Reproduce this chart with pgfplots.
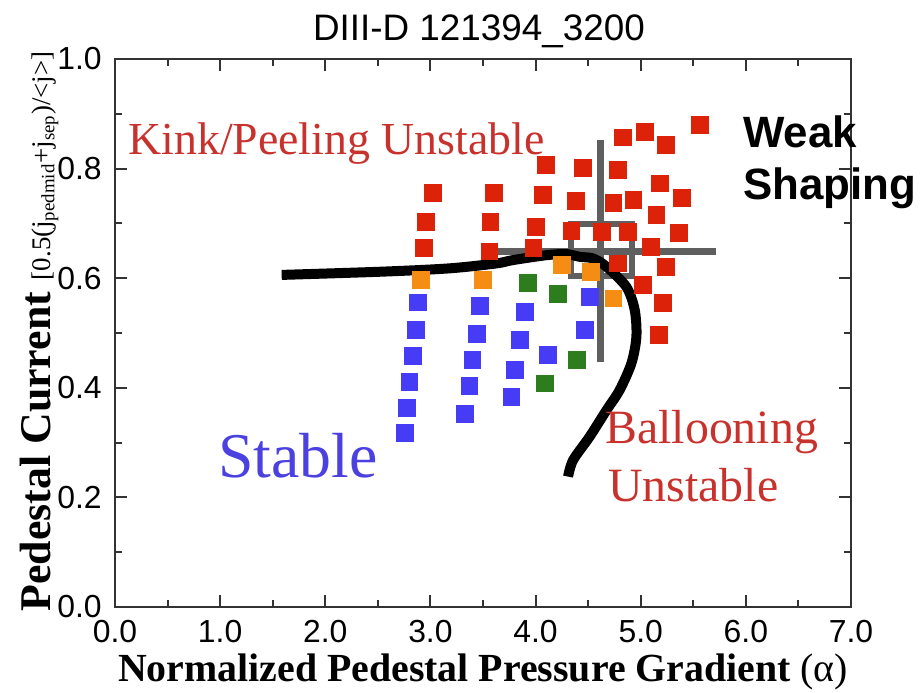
\documentclass[border=0pt]{standalone}
\usepackage{fontspec}
\setmainfont{Liberation Serif}
\setsansfont{Liberation Sans}
\usepackage{pgfplots}
\pgfplotsset{compat=1.18}
\definecolor{mred}{RGB}{220,35,10}
\definecolor{morange}{RGB}{245,140,20}
\definecolor{mgreen}{RGB}{45,125,30}
\definecolor{mblue}{RGB}{70,60,245}
\definecolor{tred}{RGB}{200,50,45}
\definecolor{tblue}{RGB}{75,65,225}
\definecolor{mgrey}{RGB}{95,95,95}
\begin{document}
\begin{tikzpicture}
\begin{axis}[
  at={(0,0)}, anchor=south west,
  scale only axis, width=368bp, height=274bp,
  xmin=0, xmax=7, ymin=0, ymax=1,
  xtick={0,1,2,3,4,5,6,7}, ytick={0,0.2,0.4,0.6,0.8,1.0},
  minor x tick num=1, minor y tick num=1,
  tick align=inside,
  major tick length=6bp, minor tick length=3.5bp,
  axis line style={line width=1bp, black!80},
  every tick/.style={line width=1bp, black!80},
  xticklabel style={font=\fontsize{16}{16}\sffamily, inner sep=0pt, anchor=north, yshift=-6.5bp,
    /pgf/number format/fixed, /pgf/number format/fixed zerofill, /pgf/number format/precision=1,
    /pgf/number format/assume math mode=true},
  yticklabel style={font=\fontsize{16}{16}\sffamily, inner sep=0pt, anchor=east, xshift=-6.5bp,
    /pgf/number format/fixed, /pgf/number format/fixed zerofill, /pgf/number format/precision=1,
    /pgf/number format/assume math mode=true},
]
\addplot[only marks, mark=square*, mark size=4.2bp, color=mred] coordinates {
(3.02,0.756) (2.96,0.703) (2.94,0.655)
(3.60,0.756) (3.57,0.703) (3.56,0.649)
(5.56,0.880) (4.83,0.857) (5.04,0.867) (5.24,0.843)
(4.10,0.807) (4.45,0.801) (4.78,0.797) (5.18,0.773)
(4.07,0.752) (4.38,0.741) (4.74,0.737) (4.93,0.743) (5.39,0.746)
(5.15,0.715)
(4.00,0.694) (4.34,0.687) (4.63,0.685) (4.88,0.685) (5.36,0.683)
(3.98,0.655) (5.10,0.657)
(4.78,0.627) (5.24,0.621) (5.02,0.588) (5.21,0.555) (5.17,0.496)
};
\addplot[only marks, mark=square*, mark size=4.2bp, color=morange] coordinates {
(2.91,0.597) (3.50,0.597) (4.25,0.624) (4.53,0.612) (4.74,0.563)
};
\addplot[only marks, mark=square*, mark size=4.2bp, color=mgreen] coordinates {
(3.93,0.591) (4.21,0.572) (4.39,0.451) (4.09,0.408)
};
\addplot[only marks, mark=square*, mark size=4.2bp, color=mblue] coordinates {
(2.88,0.556) (2.86,0.505) (2.83,0.458) (2.80,0.411) (2.78,0.363) (2.76,0.317)
(3.47,0.549) (3.44,0.499) (3.40,0.451) (3.37,0.403) (3.33,0.353)
(3.90,0.539) (3.85,0.487) (3.80,0.432) (3.77,0.384)
(4.52,0.566) (4.47,0.505) (4.12,0.460)
};
% crosshair and box
\addplot[mgrey, line width=3.5bp] coordinates {(4.62,0.852) (4.62,0.447)};
\addplot[mgrey, line width=3.5bp] coordinates {(3.60,0.648) (5.72,0.648)};
\addplot[mgrey, line width=3bp] coordinates {(4.34,0.699) (4.92,0.699) (4.92,0.604) (4.34,0.604) (4.34,0.699)} -- cycle;
% stability boundary
\addplot[black, line width=5bp, smooth] coordinates {
(1.585,0.606) (2.550,0.612) (3.184,0.618) (3.628,0.627) (3.783,0.633)
(4.104,0.642) (4.294,0.644) (4.420,0.639) (4.547,0.636) (4.674,0.621)
(4.864,0.584) (4.943,0.542) (4.959,0.493) (4.912,0.445) (4.800,0.396)
(4.674,0.359) (4.515,0.311) (4.357,0.268) (4.309,0.238)
};
\end{axis}
% texts
\node[anchor=base, inner sep=0pt, font=\fontsize{18.5}{18.5}\sffamily] at (182bp,283bp) {DIII-D 121394\_3200};
\node[anchor=base west, inner sep=0pt, text=tred, font=\fontsize{23}{23}\selectfont] at (6.5bp,226bp) {Kink/Peeling Unstable};
\node[anchor=base west, inner sep=0pt, text=tblue, font=\fontsize{32}{32}\selectfont] at (51.5bp,64.5bp) {Stable};
\node[anchor=base west, inner sep=0pt, text=tred, font=\fontsize{24}{24}\selectfont] at (245bp,81.5bp) {Ballooning};
\node[anchor=base west, inner sep=0pt, text=tred, font=\fontsize{24}{24}\selectfont] at (246.5bp,52.5bp) {Unstable};
\node[anchor=base west, inner sep=0pt, font=\fontsize{22}{22}\sffamily\bfseries] at (314bp,229.5bp) {Weak};
\node[anchor=base west, inner sep=0pt, font=\fontsize{22}{22}\sffamily\bfseries] at (314bp,203.5bp) {Shaping};
\node[anchor=base, inner sep=0pt, font=\fontsize{20}{20}\bfseries] at (184bp,-37bp) {Normalized Pedestal Pressure Gradient {\mdseries(α)}};
\node[rotate=90, anchor=base, inner sep=0pt] at (-32.5bp,137.75bp) {{\fontsize{22}{22}\bfseries Pedestal Current}\hspace{6bp}{\fontsize{13.5}{13.5}\selectfont [0.5(j\textsubscript{pedmid}+j\textsubscript{sep})/<j>]}};
\pgfresetboundingbox
\useasboundingbox (-57.5bp,-43bp) rectangle (403.5bp,303.5bp);
\end{tikzpicture}
\end{document}
